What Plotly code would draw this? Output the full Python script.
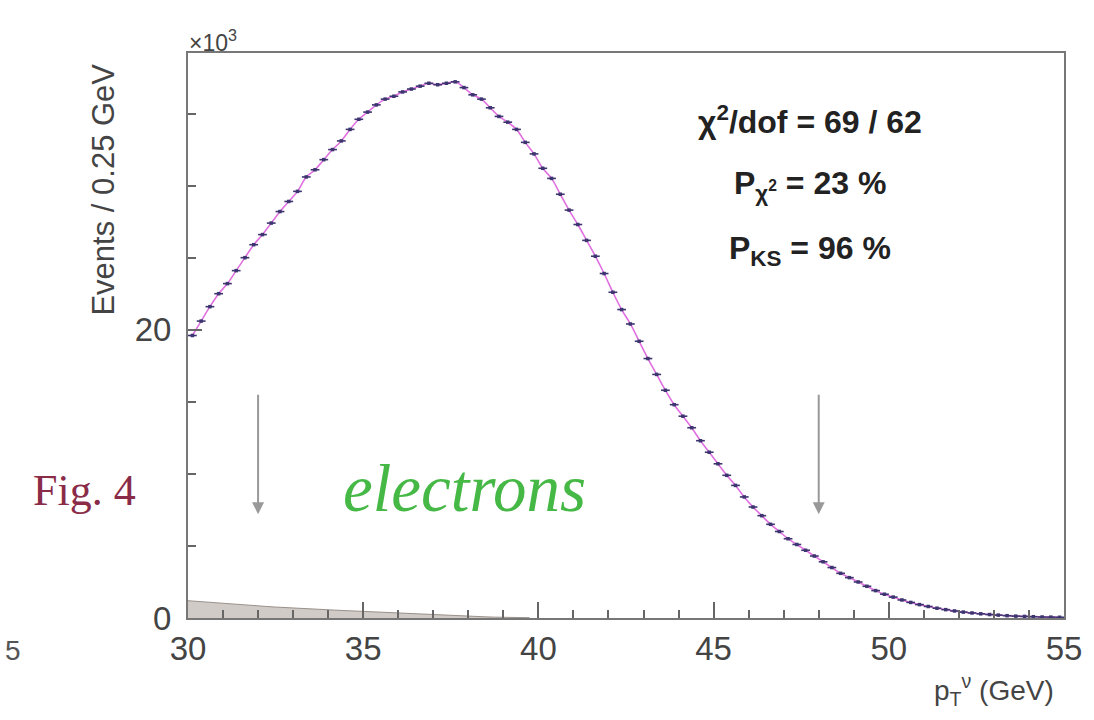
import plotly.graph_objects as go

# ---- data (thousands of events per 0.25 GeV bin) ----
bin_width = 0.25
x_start = 30.0
events_k = [
    19.6, 20.6, 21.6, 22.5, 23.2, 24.1, 25.0, 25.9, 26.6, 27.4,
    28.2, 28.9, 29.6, 30.6, 31.1, 31.8, 32.5, 33.1, 33.9, 34.6,
    35.1, 35.6, 36.0, 36.2, 36.5, 36.7, 36.9, 37.1, 37.0, 37.1,
    37.2, 36.8, 36.3, 36.0, 35.4, 34.8, 34.4, 33.9, 33.0, 32.2,
    31.2, 30.5, 29.4, 28.3, 27.3, 26.2, 25.1, 23.9, 22.6, 21.4,
    20.4, 19.2, 18.0, 16.9, 15.8, 14.8, 14.0, 13.2, 12.3, 11.5,
    10.7, 9.9, 9.2, 8.4, 7.7, 7.1, 6.5, 6.0, 5.5, 5.1,
    4.7, 4.3, 3.9, 3.5, 3.1, 2.8, 2.5, 2.2, 1.9, 1.65,
    1.45, 1.25, 1.08, 0.93, 0.80, 0.68, 0.58, 0.49, 0.41, 0.35,
    0.29, 0.24, 0.20, 0.16, 0.13, 0.11, 0.09, 0.07, 0.06, 0.05,
]
background_k = [
    1.20, 1.15, 1.10, 1.05, 1.00, 0.96, 0.92, 0.88, 0.84, 0.80,
    0.76, 0.72, 0.69, 0.66, 0.63, 0.60, 0.57, 0.54, 0.51, 0.48,
    0.45, 0.42, 0.39, 0.36, 0.33, 0.30, 0.27, 0.24, 0.21, 0.18,
    0.16, 0.14, 0.12, 0.10, 0.08, 0.06, 0.05, 0.04, 0.03, 0.02,
]
x_ticks = [30, 35, 40, 45, 50, 55]
y_ticks = [0, 20]
stats_lines = ["χ<sup>2</sup>/dof = 69 / 62", "P<sub>χ<sup>2</sup></sub> = 23 %", "P<sub>KS</sub> = 96 %"]
arrow_positions = [32, 48]

centers = [x_start + bin_width * (i + 0.5) for i in range(len(events_k))]
bkg_x = [x_start + bin_width * i for i in range(len(background_k))]

fig = go.Figure()

# background (shaded)
fig.add_trace(go.Scatter(
    x=bkg_x, y=background_k, mode="lines", line=dict(color="#9a918a", width=1),
    fill="tozeroy", fillcolor="rgba(170,160,152,0.55)", hoverinfo="skip", showlegend=False))

# fit curve
fig.add_trace(go.Scatter(
    x=centers, y=events_k, mode="lines", line=dict(color="#e070e0", width=1.6, shape="spline"),
    showlegend=False))

# data points
fig.add_trace(go.Scatter(
    x=centers, y=events_k, mode="markers",
    marker=dict(color="#3d3570", size=3.5, symbol="square"),
    error_x=dict(type="constant", value=bin_width / 2, color="#3d3570", thickness=1.6, width=0),
    showlegend=False))

axis_font = dict(family="Liberation Sans, Arial, sans-serif", size=33, color="#444")

L, R, T, B = 188, 1070, 53, 618
W, H = 1094, 720

fig.update_layout(
    width=W, height=H,
    margin=dict(l=L, r=W - R, t=T, b=H - B),
    paper_bgcolor="white", plot_bgcolor="white",
    font=axis_font,
    xaxis=dict(
        range=[30, 55], tickvals=x_ticks, ticktext=[str(v) for v in x_ticks],
        ticks="inside", ticklen=16, tickwidth=1.5, tickcolor="#666",
        minor=dict(dtick=1, tick0=30, ticks="inside", ticklen=8, tickwidth=1.5, tickcolor="#666"),
        showline=True, linecolor="#777", linewidth=2, mirror=True,
        showgrid=False, zeroline=False, ticklabelstandoff=0, tickfont=axis_font,
    ),
    yaxis=dict(
        range=[0, 39.2], tickvals=y_ticks, ticktext=[str(v) for v in y_ticks],
        ticks="inside", ticklen=14, tickwidth=1.5, tickcolor="#666",
        minor=dict(dtick=5, tick0=0, ticks="inside", ticklen=8, tickwidth=1.5, tickcolor="#666"),
        showline=True, linecolor="#777", linewidth=2, mirror=True,
        showgrid=False, zeroline=False, ticklabelstandoff=8, tickfont=axis_font,
    ),
)


def px_ann(xp, yp, text, size, color="#444", family="Liberation Sans, Arial, sans-serif",
           xanchor="center", angle=0):
    return dict(x=(xp - L) / (R - L), y=(B - yp) / (B - T), xref="paper", yref="paper",
                text=text, showarrow=False, xanchor=xanchor, yanchor="middle", textangle=angle,
                font=dict(family=family, size=size, color=color))


ann = []
ann.append(px_ann(187, 41, "×10<sup>3</sup>", 23, xanchor="left"))
ann.append(px_ann(103, 190, "Events / 0.25 GeV", 31, angle=-90))
ann.append(px_ann(1062, 690, "p<sub>T</sub><sup>ν</sup> (GeV)", 28, xanchor="right"))
for t, yy in zip(stats_lines, [120, 185, 250]):
    ann.append(px_ann(814, yy, "<b>" + t + "</b>", 32, color="#222"))
ann.append(px_ann(84, 490, "Fig. 4", 44, color="#8a2c48",
                  family="Liberation Serif, Times New Roman, serif"))
ann.append(px_ann(466, 488, "<i>electrons</i>", 67, color="#45b845",
                  family="Liberation Serif, Times New Roman, serif"))
ann.append(px_ann(2, 650, "5", 28, color="#555", xanchor="left"))

# arrows (data coordinates)
for xp in arrow_positions:
    ann.append(dict(x=xp, y=7.2, ax=xp, ay=15.6, xref="x", yref="y", axref="x", ayref="y",
                    showarrow=True, arrowhead=2, arrowsize=1.2, arrowwidth=2, arrowcolor="#999", text=""))

fig.update_layout(annotations=ann)
fig.write_html("out.html", config={"displayModeBar": False},
               post_script="document.body.style.margin='0';document.body.style.overflow='hidden';")
